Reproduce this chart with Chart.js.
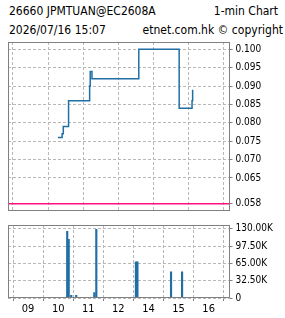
<!DOCTYPE html>
<html><head><meta charset="utf-8">
<script src="https://cdn.jsdelivr.net/npm/chart.js@4"></script>
<style>
html,body{margin:0;padding:0;background:#fff;width:285px;height:318px;overflow:hidden;}
.t{position:absolute;font-family:"DejaVu Sans Condensed","DejaVu Sans",sans-serif;font-stretch:condensed;font-size:12px;line-height:14px;color:#000;white-space:nowrap;}
#c1{position:absolute;left:0;top:0;}
#c2{position:absolute;left:0;top:216px;}
</style></head><body>
<div class="t" style="left:9px;top:4px;">26660 JPMTUAN@EC2608A</div>
<div class="t" style="right:7px;top:4px;">1-min Chart</div>
<div class="t" style="left:9px;top:23px;">2026/07/16 15:07</div>
<div class="t" style="right:2px;top:23px;">etnet.com.hk © copyright</div>
<canvas id="c1" width="285" height="220"></canvas>
<canvas id="c2" width="285" height="102"></canvas>
<script>
// ---- data ----
const priceTimes  = ["10:17","10:24","10:26","10:35","11:11","11:12","11:15","13:35","14:44","15:06","15:07"];
const priceValues = [0.076, 0.077, 0.079, 0.086, 0.090, 0.094, 0.092, 0.100, 0.084, 0.086, 0.089];
const volTimes    = ["10:18","10:19","10:21","10:26","10:36","11:12","11:16","13:35","13:38","14:45","15:07"];
const volValues   = [125000, 4000, 110000, 5000, 5000, 10000, 129000, 68000, 68000, 49000, 49000];
const refLevel    = 0.058;
const priceTicks  = [0.100, 0.095, 0.090, 0.085, 0.080, 0.075, 0.070, 0.065, 0.058];
const volTicks    = [0, 32500, 65000, 97500, 130000];
const hourLabels  = ["09","10","11","12","14","15","16"];
const hourTicks   = ["09:00","10:00","11:00","12:00","14:00","15:00","16:00"];

// trading-minute index since 09:00, lunch 12:00-13:00 removed
function idx(t){const [h,m]=t.split(":").map(Number);let v=h*60+m-540;if(h>=13)v-=60;return v;}
const X_MIN=-8.5, X_MAX=370;
const tickIdx = hourTicks.map(idx);

const FONT = {family:'"DejaVu Sans Condensed","DejaVu Sans",sans-serif', size:10};
const GRID = '#b8b8b8', BORDER='#808080', BLUE='#1f6fa5', PINK='#ff1080';

const boxPlugin = {id:'box', afterDraw(c){const a=c.chartArea,x=c.ctx;x.save();x.strokeStyle=BORDER;x.lineWidth=1;
  x.strokeRect(Math.round(a.left)+0.5,Math.round(a.top)+0.5,Math.round(a.right-a.left)-1,Math.round(a.bottom-a.top)-1);x.restore();}};

function xScale(showLabels){
  return {type:'linear',min:X_MIN,max:X_MAX,
    afterBuildTicks:s=>{s.ticks=tickIdx.map(v=>({value:v}));},
    ticks:{display:showLabels,autoSkip:false,maxRotation:0,color:'#000',font:{...FONT,size:11},padding:2,
      callback:(v)=>hourLabels[tickIdx.indexOf(v)]},
    grid:{color:GRID,drawTicks:showLabels,tickLength:3,tickColor:BORDER},
    border:{display:false,dash:[3,2]},
    afterFit:s=>{s.height=showLabels?20:0;}
  };
}

Chart.defaults.animation=false;
Chart.defaults.responsive=false;

new Chart(document.getElementById('c1'),{
  type:'line',
  data:{datasets:[
    {data:priceTimes.map((t,i)=>({x:idx(t),y:priceValues[i]})),stepped:true,borderColor:BLUE,borderWidth:1.5,pointRadius:0,fill:false},
    {data:[{x:X_MIN,y:refLevel},{x:X_MAX,y:refLevel}],borderColor:PINK,borderWidth:1.5,pointRadius:0,fill:false}
  ]},
  options:{
    events:[],
    layout:{padding:{top:42,left:8,right:0,bottom:0}},
    plugins:{legend:{display:false},tooltip:{enabled:false}},
    scales:{
      x:xScale(false),
      y:{position:'right',min:0.056,max:0.102,
        afterBuildTicks:s=>{s.ticks=priceTicks.map(v=>({value:v}));},
        ticks:{color:'#000',font:FONT,padding:3,callback:v=>v.toFixed(3)},
        grid:{color:c=>c.tick&&c.tick.value===refLevel?'rgba(0,0,0,0)':GRID,tickColor:BORDER,tickLength:3,drawTicks:true},
        border:{display:false,dash:[3,2]},
        afterFit:s=>{s.width=55.5;}
      }
    }
  },
  plugins:[boxPlugin]
});
// dashed grid via dash option on grid
new Chart(document.getElementById('c2'),{
  type:'bar',
  data:{datasets:[
    {data:volTimes.map((t,i)=>({x:idx(t),y:volValues[i]})),backgroundColor:BLUE,barThickness:1.5}
  ]},
  options:{
    events:[],
    layout:{padding:{top:5,left:8,right:0,bottom:0}},
    plugins:{legend:{display:false},tooltip:{enabled:false}},
    scales:{
      x:xScale(true),
      y:{position:'right',min:0,max:137000,
        afterBuildTicks:s=>{s.ticks=volTicks.map(v=>({value:v}));},
        ticks:{color:'#000',font:FONT,padding:3,callback:v=>v===0?'0':(v/1000).toFixed(2)+'K'},
        grid:{color:GRID,tickColor:BORDER,tickLength:3},
        border:{display:false,dash:[3,2]},
        afterFit:s=>{s.width=55.5;}
      }
    }
  },
  plugins:[boxPlugin]
});
</script>
</body></html>
